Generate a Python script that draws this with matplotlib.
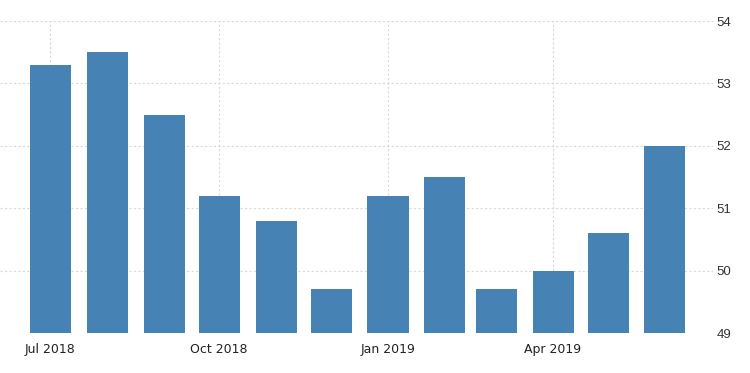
import matplotlib
matplotlib.use("Agg")
from matplotlib import pyplot as plt
import matplotlib.dates as mdates
import pandas as pd

# ---------------- Data ----------------
months = ["2018-07-01", "2018-08-01", "2018-09-01", "2018-10-01", "2018-11-01", "2018-12-01",
          "2019-01-01", "2019-02-01", "2019-03-01", "2019-04-01", "2019-05-01", "2019-06-01"]
values = [53.3, 53.5, 52.5, 51.2, 50.8, 49.7, 51.2, 51.5, 49.7, 50.0, 50.6, 52.0]
tick_months = ["2018-07-01", "2018-10-01", "2019-01-01", "2019-04-01"]
tick_labels = ["Jul 2018", "Oct 2018", "Jan 2019", "Apr 2019"]
y_ticks = [49, 50, 51, 52, 53, 54]

# ---------------- Figure ----------------
fig = plt.figure(figsize=(7.5, 3.73), dpi=100)
ax = fig.add_axes([0.0, 40 / 373, 713 / 750, 312 / 373])

dates = pd.to_datetime(months)
ax.bar(dates, values, width=22.4, color="#4682b4", zorder=2)

ax.set_ylim(49, 54)
ax.set_xlim(dates[0] - pd.Timedelta(days=27.5), dates[-1] + pd.Timedelta(days=26.2))

ax.set_yticks(y_ticks)
ax.set_yticklabels([str(v) for v in y_ticks], family="Liberation Sans")
ax.yaxis.tick_right()

ax.set_xticks(mdates.date2num(pd.to_datetime(tick_months)))
ax.set_xticklabels(tick_labels)

ax.grid(True, color="#d8d8d8", linestyle=(0, (2, 2)), linewidth=0.8, zorder=0)
for s in ax.spines.values():
    s.set_visible(False)

ax.tick_params(axis="y", length=0, pad=2.5, labelsize=9.5, labelcolor="#333333")
ax.tick_params(axis="x", length=0, pad=7.5, labelsize=9, labelcolor="#222222")

fig.savefig("out.png", dpi=100)
